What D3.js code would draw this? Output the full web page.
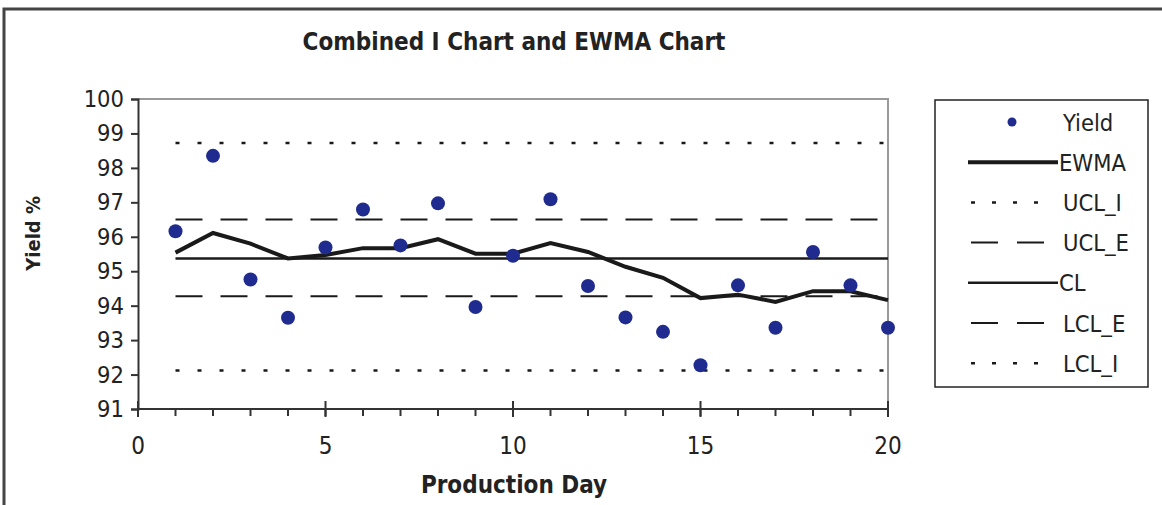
<!DOCTYPE html>
<html>
<head>
<meta charset="utf-8">
<script src="https://cdn.jsdelivr.net/npm/d3@7/dist/d3.min.js"></script>
<style>
  html, body { margin: 0; padding: 0; background: #fff; }
  svg { display: block; }
</style>
</head>
<body>
<svg id="chart" width="1162" height="505"></svg>
<script>
// ---- data ----
const days = [1,2,3,4,5,6,7,8,9,10,11,12,13,14,15,16,17,18,19,20];
const yieldValues = [96.16,98.35,94.76,93.65,95.69,96.79,95.75,96.97,93.96,95.45,97.09,94.57,93.66,93.24,92.27,94.59,93.36,95.56,94.59,93.36];
const ewmaValues  = [95.54,96.11,95.80,95.37,95.47,95.67,95.67,95.93,95.51,95.51,95.82,95.56,95.13,94.81,94.22,94.32,94.11,94.42,94.42,94.16];
const limitNames  = ["UCL_I","UCL_E","CL","LCL_E","LCL_I"];
const limitValues = [98.72, 96.50, 95.37, 94.27, 92.12];
const xTicks = [0,5,10,15,20];
const yTicks = [91,92,93,94,95,96,97,98,99,100];
const legendLabels = ["Yield","EWMA","UCL_I","UCL_E","CL","LCL_E","LCL_I"];
const title = "Combined I Chart and EWMA Chart";
const xTitle = "Production Day";
const yTitle = "Yield %";

// ---- styles ----
const font = "'DejaVu Sans Condensed', 'DejaVu Sans', sans-serif";
const dotColor = "#1f2b8e";
const lineStyles = {
  EWMA:  { w: 4,   dash: null },
  UCL_I: { w: 2.5, dash: "4,18" },
  UCL_E: { w: 2,   dash: "27,18" },
  CL:    { w: 2.5, dash: null },
  LCL_E: { w: 2,   dash: "27,18" },
  LCL_I: { w: 2.5, dash: "4,18" }
};

const svg = d3.select("#chart");

// outer frame
svg.append("rect").attr("x", 4).attr("y", 9).attr("width", 1170).attr("height", 510)
  .attr("fill", "none").attr("stroke", "#444").attr("stroke-width", 3);

const x = d3.scaleLinear().domain([0, 20]).range([138, 888]);
const y = d3.scaleLinear().domain([91, 100]).range([409, 99]);

// plot area border (top/right gray)
svg.append("path")
  .attr("d", `M${x(0)},${y(100)}H${x(20)}V${y(91)}`)
  .attr("fill", "none").attr("stroke", "#9a9a9a").attr("stroke-width", 2);

// title
svg.append("text").attr("x", 514).attr("y", 50).attr("text-anchor", "middle")
  .attr("font-family", font).attr("font-weight", "bold").attr("font-size", 24)
  .attr("fill", "#222").text(title);

// y axis
const yAxis = d3.axisLeft(y).tickValues(yTicks).tickSize(7).tickPadding(7).tickFormat(d3.format("d"));
const gy = svg.append("g").attr("transform", `translate(${x(0)},0)`).call(yAxis);
gy.select(".domain").attr("stroke", "#333").attr("stroke-width", 2);
gy.selectAll(".tick line").attr("stroke", "#333").attr("stroke-width", 2);
gy.selectAll(".tick text").attr("font-family", font).attr("font-size", 23.5).attr("fill", "#222");

// x axis: minor ticks (outside) + major crossing
const gx = svg.append("g").attr("transform", `translate(0,${y(91)})`);
gx.append("line").attr("x1", x(0)).attr("x2", x(20)).attr("stroke", "#333").attr("stroke-width", 2);
gx.selectAll(".minor").data(d3.range(0, 21)).join("line")
  .attr("x1", d => x(d)).attr("x2", d => x(d)).attr("y1", 0).attr("y2", 7)
  .attr("stroke", "#333").attr("stroke-width", 2);
gx.selectAll(".major").data(xTicks).join("line")
  .attr("x1", d => x(d)).attr("x2", d => x(d)).attr("y1", -8).attr("y2", 8)
  .attr("stroke", "#333").attr("stroke-width", 2);
gx.selectAll(".lab").data(xTicks).join("text")
  .attr("x", d => x(d)).attr("y", 45).attr("text-anchor", "middle")
  .attr("font-family", font).attr("font-size", 24).attr("fill", "#222").text(d => d);

// axis titles
svg.append("text").attr("x", 514).attr("y", 493).attr("text-anchor", "middle")
  .attr("font-family", font).attr("font-weight", "bold").attr("font-size", 24)
  .attr("fill", "#222").text(xTitle);
svg.append("text").attr("transform", `translate(40,${y(96.1)}) rotate(-90)`).attr("text-anchor", "middle")
  .attr("font-family", font).attr("font-weight", "bold").attr("font-size", 20)
  .attr("fill", "#222").text(yTitle);

// limit lines
limitNames.forEach((n, i) => {
  const s = lineStyles[n];
  svg.append("line")
    .attr("x1", x(days[0])).attr("x2", x(days[days.length - 1]))
    .attr("y1", y(limitValues[i])).attr("y2", y(limitValues[i]))
    .attr("stroke", "#1a1a1a").attr("stroke-width", s.w)
    .attr("stroke-dasharray", s.dash);
});

// EWMA line
const line = d3.line().x((d, i) => x(days[i])).y(d => y(d));
svg.append("path").datum(ewmaValues).attr("d", line)
  .attr("fill", "none").attr("stroke", "#1a1a1a").attr("stroke-width", lineStyles.EWMA.w)
  .attr("stroke-linejoin", "miter");

// yield points
svg.selectAll(".pt").data(yieldValues).join("circle")
  .attr("cx", (d, i) => x(days[i])).attr("cy", d => y(d)).attr("r", 7)
  .attr("fill", dotColor);

// legend
const lg = svg.append("g");
lg.append("rect").attr("x", 935).attr("y", 100).attr("width", 213).attr("height", 287)
  .attr("fill", "#fff").attr("stroke", "#222").attr("stroke-width", 1.5);
legendLabels.forEach((lab, i) => {
  const cy = 122 + i * 40.2;
  if (lab === "Yield") {
    lg.append("circle").attr("cx", 1012).attr("cy", cy).attr("r", 4.5).attr("fill", dotColor);
  } else {
    const s = lineStyles[lab];
    const solid = !s.dash;
    lg.append("line").attr("x1", solid ? 968 : 971).attr("x2", solid ? 1058 : 1045)
      .attr("y1", cy).attr("y2", cy)
      .attr("stroke", "#1a1a1a").attr("stroke-width", s.w)
      .attr("stroke-dasharray", s.dash === "4,18" ? "4,17" : (s.dash ? "27,19" : null));
  }
  lg.append("text").attr("x", lab === "EWMA" || lab === "CL" ? 1059 : 1063).attr("y", cy + 8.5)
    .attr("font-family", font).attr("font-size", 23.5).attr("fill", "#222").text(lab);
});
</script>
</body>
</html>
